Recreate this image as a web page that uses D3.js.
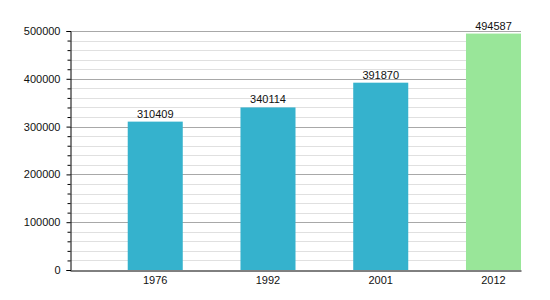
<!DOCTYPE html>
<html>
<head>
<meta charset="utf-8">
<script src="https://cdn.jsdelivr.net/npm/d3@7"></script>
<style>
  body { margin: 0; background: #fff; }
  text { font-family: "Liberation Sans", Arial, sans-serif; font-size: 11px; fill: #111; }
</style>
</head>
<body>
<div id="chart"></div>
<script>
// chart data
var years = ["1976", "1992", "2001", "2012"];
var population = [310409, 340114, 391870, 494587];
var barColors = ["#35b2cd", "#35b2cd", "#35b2cd", "#99e699"];
var majorTicks = [0, 100000, 200000, 300000, 400000, 500000];

var svgWidth = 550;
var svgHeight = 300;

var margin = { top: 31, right: 29, bottom: 30, left: 70 };
var width = svgWidth - margin.left - margin.right;
var height = svgHeight - margin.top - margin.bottom;

var svg = d3.select("#chart")
  .append("svg")
  .attr("width", svgWidth)
  .attr("height", svgHeight);

var chartGroup = svg.append("g")
  .attr("transform", `translate(${margin.left}, ${margin.top})`);

var xScale = d3.scaleBand()
  .domain(years)
  .range([0, width])
  .paddingInner(0.512)
  .paddingOuter(0.256)
  .align(1);

var yScale = d3.scaleLinear()
  .domain([0, 500000])
  .range([height, 0]);

// minor gridlines every 20000
var minorTicks = d3.range(0, 500001, 20000).filter(d => d % 100000 !== 0);
chartGroup.selectAll(".minor")
  .data(minorTicks)
  .enter()
  .append("line")
  .attr("x1", 0)
  .attr("x2", width)
  .attr("y1", d => Math.round(yScale(d)) + 0.5)
  .attr("y2", d => Math.round(yScale(d)) + 0.5)
  .attr("stroke", "#e0e0e0");

// major gridlines
chartGroup.selectAll(".major")
  .data(majorTicks.slice(1))
  .enter()
  .append("line")
  .attr("x1", 0)
  .attr("x2", width)
  .attr("y1", d => Math.round(yScale(d)) + 0.5)
  .attr("y2", d => Math.round(yScale(d)) + 0.5)
  .attr("stroke", "#a8a8a8");

// bars
chartGroup.selectAll("rect")
  .data(population)
  .enter()
  .append("rect")
  .attr("x", (d, i) => xScale(years[i]))
  .attr("y", d => yScale(d))
  .attr("width", xScale.bandwidth())
  .attr("height", d => height - yScale(d))
  .attr("fill", (d, i) => barColors[i]);

// value labels
chartGroup.selectAll(".val")
  .data(population)
  .enter()
  .append("text")
  .attr("x", (d, i) => xScale(years[i]) + xScale.bandwidth() / 2)
  .attr("y", d => yScale(d) - 4)
  .attr("text-anchor", "middle")
  .text(d => d);

// y axis with minor ticks
var leftAxis = d3.axisLeft(yScale)
  .tickValues(majorTicks)
  .tickFormat(d3.format("d"))
  .tickSize(4)
  .tickPadding(6);

var yAxis = chartGroup.append("g")
  .attr("transform", "translate(0.5, 0)")
  .call(leftAxis);
yAxis.select(".domain").attr("stroke", "#000");
yAxis.selectAll(".tick text").style("font-size", "11px").attr("fill", "#111");

var minorAxis = d3.axisLeft(yScale)
  .tickValues(minorTicks)
  .tickFormat("")
  .tickSize(3);
chartGroup.append("g")
  .attr("transform", "translate(0.5, 0)")
  .call(minorAxis)
  .select(".domain").remove();

// x axis
var bottomAxis = d3.axisBottom(xScale)
  .tickSize(0)
  .tickPadding(6);
var xAxis = chartGroup.append("g")
  .attr("transform", `translate(0, ${height + 0.5})`)
  .call(bottomAxis);
xAxis.select(".domain").attr("stroke", "#000");
xAxis.selectAll(".tick text").style("font-size", "11px").attr("fill", "#111");
</script>
</body>
</html>
